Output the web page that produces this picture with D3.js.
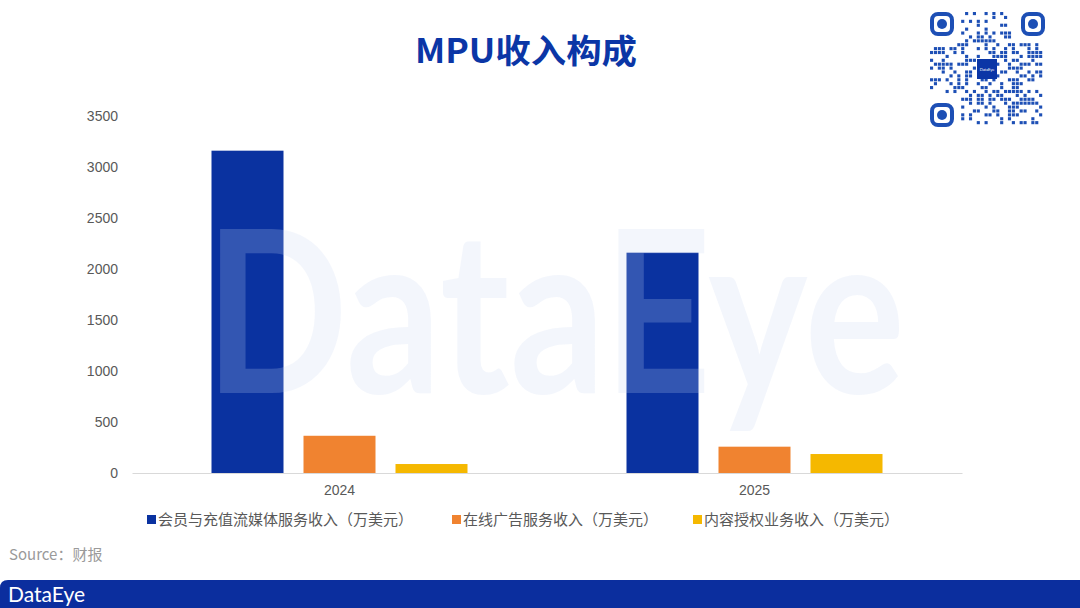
<!DOCTYPE html>
<html><head><meta charset="utf-8">
<script src="https://cdn.jsdelivr.net/npm/d3@7"></script>
<style>body{margin:0;background:#fff;} svg{display:block;}</style>
</head><body>
<svg id="chart" width="1080" height="608"></svg>
<script>
const categories = ["2024", "2025"];
const seriesNames = ["会员与充值流媒体服务收入（万美元）", "在线广告服务收入（万美元）", "内容授权业务收入（万美元）"];
const membership = [3160, 2160];
const advertising = [365, 258];
const licensing = [88, 186];
const yTicks = [0, 500, 1000, 1500, 2000, 2500, 3000, 3500];
const colors = ["#0a32a0", "#f08330", "#f5b800"];

const svg = d3.select("#chart");
const font = "'Noto Sans CJK SC','Microsoft YaHei',Arial,sans-serif";
const data = categories.map((c, i) => ({cat: c, vals: [membership[i], advertising[i], licensing[i]]}));

const plotL = 132, plotR = 962, plotT = 116, plotB = 473;
const y = d3.scaleLinear().domain([0, 3500]).range([plotB, plotT]);
const x0 = d3.scaleBand().domain(categories).range([plotL, plotR]).paddingInner(0).paddingOuter(0);
const x1 = d3.scaleBand().domain([0,1,2]).range([(x0.bandwidth()-256)/2, (x0.bandwidth()+256)/2]).paddingInner(20/92).paddingOuter(0);

// Watermark (behind? drawn on top semi-transparent)
// Title
svg.append("text").attr("x", 526).attr("y", 63).attr("text-anchor", "middle")
  .attr("font-family", "'Noto Sans CJK SC',sans-serif").attr("font-weight", "bold")
  .attr("font-size", 33).attr("fill", "#0b36a6")
  .attr("textLength", 222).attr("lengthAdjust", "spacingAndGlyphs").text("MPU收入构成");

// Y axis labels
const yAxis = d3.axisLeft(y).tickValues(yTicks).tickFormat(d3.format("d")).tickSize(0).tickPadding(14);
const gy = svg.append("g").attr("transform", `translate(${plotL},0)`).call(yAxis);
gy.select(".domain").remove();
gy.selectAll("text").attr("font-family", "Arial, 'Liberation Sans', sans-serif").attr("font-size", 14).attr("fill", "#595959");

// Bars
const groups = svg.append("g").selectAll("g").data(data).join("g")
  .attr("transform", d => `translate(${x0(d.cat)},0)`);
groups.selectAll("rect").data(d => d.vals.map((v, i) => ({v, i}))).join("rect")
  .attr("x", d => x1(d.i)).attr("width", x1.bandwidth())
  .attr("y", d => y(d.v)).attr("height", d => plotB - y(d.v))
  .attr("fill", d => colors[d.i]);

// X axis
const xAxis = d3.axisBottom(x0).tickSize(0).tickPadding(12);
const gx = svg.append("g").attr("transform", `translate(0,${plotB})`).call(xAxis);
gx.select(".domain").attr("stroke", "#d9d9d9").attr("stroke-width", 1);
gx.selectAll("text").attr("font-family", "Arial, 'Liberation Sans', sans-serif").attr("font-size", 14).attr("fill", "#595959");

// Watermark
svg.append("text").attr("x", 205).attr("y", 393)
  .attr("font-family", "Lato, 'Open Sans', sans-serif").attr("font-size", 226).attr("font-weight", "bold")
  .attr("fill", "#c8d8f0").attr("fill-opacity", 0.22).attr("textLength", 700).attr("lengthAdjust", "spacingAndGlyphs")
  .text("DataEye");

// Legend
const legendX = [147, 452, 693];
const lg = svg.append("g").selectAll("g").data(seriesNames).join("g")
  .attr("transform", (d, i) => `translate(${legendX[i]},520)`);
lg.append("rect").attr("x", 0).attr("y", -5).attr("width", 9).attr("height", 9).attr("fill", (d, i) => colors[i]);
lg.append("text").attr("x", 11).attr("y", 5).attr("font-family", font).attr("font-size", 15).attr("fill", "#595959").text(d => d);

// Source
svg.append("text").attr("x", 9).attr("y", 560).attr("font-family", font).attr("font-size", 15).attr("fill", "#9a9a9a").text("Source：财报");

// Bottom band
svg.append("path").attr("d", "M0,588 Q0,580 8,580 L1080,580 L1080,608 L0,608 Z").attr("fill", "#0b2e9e");
svg.append("text").attr("x", 8).attr("y", 602).attr("font-family", "Lato, 'Open Sans', sans-serif")
  .attr("font-size", 21).attr("fill", "#fff").text("DataEye");

// QR decorative
const qr = svg.append("g").attr("transform", "translate(930,12)");
const qrColor = "#1d4fb5";
const finders = [[0,0],[91,0],[0,91]];
finders.forEach(([fx, fy]) => {
  qr.append("rect").attr("x", fx+2).attr("y", fy+2).attr("width", 20).attr("height", 20).attr("rx", 6)
    .attr("fill", "none").attr("stroke", qrColor).attr("stroke-width", 4);
  qr.append("circle").attr("cx", fx+12).attr("cy", fy+12).attr("r", 5).attr("fill", qrColor);
});
const cells = [];
const N = 29, cs = 113/N;
for (let r = 0; r < N; r++) for (let c = 0; c < N; c++) {
  const inF = (r < 8 && c < 8) || (r < 8 && c > N-9) || (r > N-9 && c < 8);
  const inC = r > 11 && r < 17 && c > 11 && c < 17;
  if (inF || inC) continue;
  const h = ((r * 73856093) ^ (c * 19349663) ^ (r*c*83492791)) >>> 0;
  if (h % 7 < 3) cells.push([r, c]);
}
qr.selectAll("rect.m").data(cells).join("rect").attr("class", "m")
  .attr("x", d => d[1]*cs).attr("y", d => d[0]*cs).attr("width", cs*0.8).attr("height", cs*0.8).attr("fill", qrColor);
qr.append("rect").attr("x", 47).attr("y", 47).attr("width", 20).attr("height", 20).attr("fill", "#0b36a6");
qr.append("text").attr("x", 57).attr("y", 59).attr("text-anchor", "middle").attr("font-size", 4).attr("fill", "#fff")
  .attr("font-family", "Lato, sans-serif").text("DataEye");
</script>
</body></html>
